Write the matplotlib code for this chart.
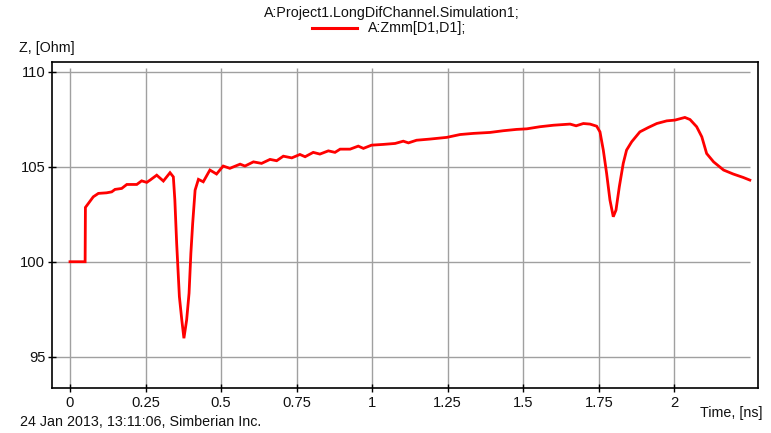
import matplotlib
matplotlib.use("Agg")
import matplotlib.pyplot as plt
from matplotlib.lines import Line2D

plt.rcParams['font.family'] = ['Liberation Sans', 'DejaVu Sans']

# Time axis (ns) and differential impedance Zmm[D1,D1] (Ohm)
time_ns = [0, 0.05, 0.051, 0.077, 0.094, 0.121, 0.138, 0.149, 0.171, 0.188,
           0.221, 0.237, 0.254, 0.265, 0.287, 0.309, 0.331, 0.342, 0.347, 0.353,
           0.362, 0.370, 0.377, 0.386, 0.394, 0.400, 0.406, 0.414, 0.425, 0.441,
           0.463, 0.485, 0.507, 0.529, 0.563, 0.579, 0.607, 0.634, 0.662, 0.684,
           0.706, 0.734, 0.761, 0.778, 0.805, 0.827, 0.855, 0.877, 0.894, 0.927,
           0.954, 0.971, 0.998, 1.037, 1.076, 1.103, 1.120, 1.147, 1.191, 1.247,
           1.291, 1.335, 1.390, 1.434, 1.478, 1.512, 1.555, 1.600, 1.655, 1.675,
           1.699, 1.721, 1.743, 1.754, 1.765, 1.776, 1.787, 1.798, 1.807, 1.818,
           1.831, 1.842, 1.859, 1.886, 1.914, 1.942, 1.975, 2.002, 2.035, 2.052,
           2.074, 2.091, 2.107, 2.130, 2.163, 2.195, 2.228, 2.250]
zmm_ohm = [100, 100, 102.86, 103.42, 103.60, 103.63, 103.68, 103.81, 103.86, 104.07,
           104.07, 104.26, 104.18, 104.30, 104.56, 104.25, 104.69, 104.47, 103.25, 100.97,
           98.16, 96.93, 95.97, 96.93, 98.34, 100.44, 102.02, 103.77, 104.34, 104.21,
           104.83, 104.62, 105.04, 104.92, 105.14, 105.04, 105.26, 105.18, 105.39, 105.32,
           105.56, 105.47, 105.65, 105.53, 105.76, 105.67, 105.84, 105.76, 105.93, 105.93,
           106.09, 105.97, 106.14, 106.18, 106.23, 106.35, 106.26, 106.40, 106.46, 106.55,
           106.70, 106.76, 106.81, 106.90, 106.97, 107.00, 107.11, 107.19, 107.25, 107.16,
           107.28, 107.25, 107.14, 106.84, 105.88, 104.65, 103.25, 102.37, 102.72, 103.95,
           105.18, 105.88, 106.32, 106.84, 107.07, 107.28, 107.42, 107.46, 107.60, 107.49,
           107.11, 106.58, 105.70, 105.26, 104.83, 104.62, 104.44, 104.30]

x_ticks = [0, 0.25, 0.5, 0.75, 1, 1.25, 1.5, 1.75, 2]
x_tick_labels = ["0", "0.25", "0.5", "0.75", "1", "1.25", "1.5", "1.75", "2"]
y_ticks = [95, 100, 105, 110]
y_tick_labels = ["95", "100", "105", "110"]

title = "A:Project1.LongDifChannel.Simulation1;"
series_name = "A:Zmm[D1,D1];"
y_label = "Z, [Ohm]"
x_label = "Time, [ns]"
footer = "24 Jan 2013, 13:11:06, Simberian Inc."

W, H = 771, 433
fig = plt.figure(figsize=(W / 100, H / 100), dpi=100)
fig.patch.set_facecolor("white")

def fx(px):
    return px / W

def fy(py):
    return 1 - py / H

ax = fig.add_axes([fx(52.3), fy(388), fx(757.7) - fx(52.3), fy(62) - fy(388)])
ax.set_xlim(-0.0586, 2.276)
ax.set_ylim(93.35, 110.52)

grid_color = "#a0a0a0"
t_end = time_ns[-1]
ax.hlines(y_ticks, -0.0586, t_end, colors=grid_color, linewidth=1.0, zorder=1)
ax.vlines(x_ticks, 93.35, 110.2, colors=grid_color, linewidth=1.0, zorder=1)

ax.plot(time_ns, zmm_ohm, color="#ff0000", linewidth=2.0, zorder=3,
        solid_joinstyle="miter")

ax.set_xticks(x_ticks)
ax.set_xticklabels(x_tick_labels)
ax.set_yticks(y_ticks)
ax.set_yticklabels(y_tick_labels)
ax.tick_params(axis="both", direction="inout", length=6, width=1.0,
               color="black", labelsize=10.6, labelcolor="#111111")
ax.tick_params(axis="x", pad=3)
ax.tick_params(axis="y", pad=2)

for side in ["top", "right", "bottom", "left"]:
    ax.spines[side].set_color("black")
    ax.spines[side].set_linewidth(1.2)

txt_size = 10.3

# Header: simulation name and legend entry
fig.text(fx(392), fy(12.5), title, ha="center", va="center", fontsize=txt_size,
         color="#111111")
fig.add_artist(Line2D([fx(312), fx(357)], [fy(27.5), fy(27.5)],
                      color="#ff0000", linewidth=2.2, transform=fig.transFigure))
fig.text(fx(368), fy(28), series_name, ha="left", va="center", fontsize=txt_size,
         color="#111111")

fig.text(fx(19), fy(48), y_label, ha="left", va="center", fontsize=txt_size,
         color="#111111")
fig.text(fx(762), fy(413.5), x_label, ha="right", va="center", fontsize=txt_size,
         color="#111111")
fig.text(fx(20), fy(421.5), footer, ha="left", va="center", fontsize=txt_size,
         color="#111111")

fig.savefig("out.png", dpi=100, facecolor="white")
